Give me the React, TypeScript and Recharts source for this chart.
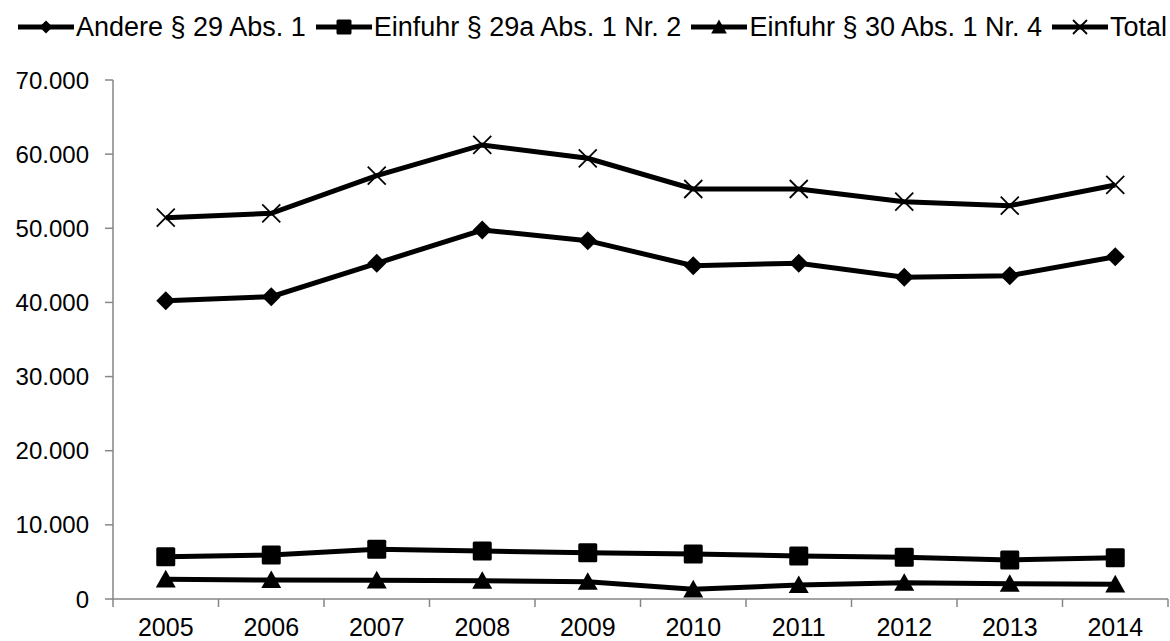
import React from 'react';
import { LineChart, Line, XAxis, YAxis } from 'recharts';

const years = ['2005', '2006', '2007', '2008', '2009', '2010', '2011', '2012', '2013', '2014'];
const andere = [40240, 40780, 45280, 49770, 48330, 44960, 45280, 43390, 43610, 46170];
const einfuhr29a = [5710, 5930, 6700, 6470, 6250, 6070, 5800, 5620, 5260, 5570];
const einfuhr30 = [2650, 2560, 2520, 2470, 2340, 1300, 1890, 2200, 2070, 1980];
const total = [51430, 52020, 57100, 61240, 59440, 55300, 55300, 53590, 53050, 55840];
const yTicks = [0, 10000, 20000, 30000, 40000, 50000, 60000, 70000];

const seriesNames = {
  andere: 'Andere § 29 Abs. 1',
  einfuhr29a: 'Einfuhr § 29a Abs. 1 Nr. 2',
  einfuhr30: 'Einfuhr § 30 Abs. 1 Nr. 4',
  total: 'Total',
};

const data = years.map((year, i) => ({
  year,
  andere: andere[i],
  einfuhr29a: einfuhr29a[i],
  einfuhr30: einfuhr30[i],
  total: total[i],
}));

const W = 1170;
const H = 641;
const PLOT_LEFT = 113;
const PLOT_RIGHT = 2;
const BAND = (W - PLOT_LEFT - PLOT_RIGHT) / years.length;
const FONT = 'Arial, "Liberation Sans", sans-serif';
const AXIS_COLOR = '#868686';

const fmt = (v: number) => String(v).replace(/\B(?=(\d{3})+(?!\d))/g, '.');

type Kind = 'diamond' | 'square' | 'triangle' | 'cross';

function Marker({ kind, cx, cy, s }: { kind: Kind; cx: number; cy: number; s: number }) {
  const h = s / 2;
  if (kind === 'diamond') {
    return <polygon points={`${cx},${cy - h} ${cx + h},${cy} ${cx},${cy + h} ${cx - h},${cy}`} fill="#000" />;
  }
  if (kind === 'square') {
    return <rect x={cx - h} y={cy - h} width={s} height={s} rx={1.5} fill="#000" />;
  }
  if (kind === 'triangle') {
    return <polygon points={`${cx},${cy - h} ${cx + h * 1.05},${cy + h * 0.85} ${cx - h * 1.05},${cy + h * 0.85}`} fill="#000" />;
  }
  return (
    <g stroke="#000" strokeWidth={1.8}>
      <line x1={cx - h} y1={cy - h} x2={cx + h} y2={cy + h} />
      <line x1={cx - h} y1={cy + h} x2={cx + h} y2={cy - h} />
    </g>
  );
}

const dotOf = (kind: Kind, s: number) => (props: any) => {
  const { cx, cy, index } = props;
  if (cx == null || cy == null) return <g key={`${kind}-${index}`} />;
  return <Marker key={`${kind}-${index}`} kind={kind} cx={cx} cy={cy} s={s} />;
};

const legendItems: { key: keyof typeof seriesNames; kind: Kind; s: number }[] = [
  { key: 'andere', kind: 'diamond', s: 13 },
  { key: 'einfuhr29a', kind: 'square', s: 15 },
  { key: 'einfuhr30', kind: 'triangle', s: 15 },
  { key: 'total', kind: 'cross', s: 14 },
];

// legend drawn outside the chart so it doesn't shrink the plot area
function ChartLegend() {
  return (
    <div
      style={{
        position: 'absolute',
        left: 18,
        top: 11,
        display: 'flex',
        alignItems: 'center',
        fontFamily: FONT,
        fontSize: 27,
        lineHeight: '32px',
        color: '#000',
        whiteSpace: 'nowrap',
      }}
    >
      {legendItems.map((it, i) => (
        <div key={it.key} style={{ display: 'flex', alignItems: 'center', marginRight: i < 3 ? 10 : 0 }}>
          <svg width={56} height={20}>
            <line x1={0} y1={10} x2={56} y2={10} stroke="#000" strokeWidth={5} />
            <Marker kind={it.kind} cx={28} cy={10} s={it.s} />
          </svg>
          <span style={{ marginLeft: 2 }}>{seriesNames[it.key]}</span>
        </div>
      ))}
    </div>
  );
}

function XTick(props: any) {
  const { x, y, payload, index } = props;
  const top = y - 10;
  return (
    <g>
      <line x1={x - BAND / 2} y1={top} x2={x - BAND / 2} y2={top + 8} stroke={AXIS_COLOR} strokeWidth={1.5} />
      {index === years.length - 1 && (
        <line x1={x + BAND / 2} y1={top} x2={x + BAND / 2} y2={top + 8} stroke={AXIS_COLOR} strokeWidth={1.5} />
      )}
      <text x={x} y={top + 37} textAnchor="middle" fontFamily={FONT} fontSize={25} fill="#000">
        {payload.value}
      </text>
    </g>
  );
}

export default function App() {
  return (
    <div style={{ position: 'absolute', left: 0, top: 0, width: W, height: H, background: '#fff' }}>
      <ChartLegend />
      <LineChart width={W} height={H} data={data} margin={{ top: 80, right: PLOT_RIGHT, bottom: 0, left: 0 }}>
        <XAxis
          dataKey="year"
          padding={{ left: BAND / 2, right: BAND / 2 }}
          axisLine={{ stroke: AXIS_COLOR, strokeWidth: 1.5 }}
          tickLine={false}
          tickSize={8}
          tickMargin={2}
          height={42}
          interval={0}
          tick={<XTick />}
        />
        <YAxis
          width={PLOT_LEFT}
          domain={[0, 70000]}
          ticks={yTicks}
          tickFormatter={fmt}
          axisLine={{ stroke: AXIS_COLOR, strokeWidth: 1.5 }}
          tickLine={{ stroke: AXIS_COLOR, strokeWidth: 1.5 }}
          tickSize={8}
          tickMargin={16}
          tick={{ fill: '#000', fontSize: 24, fontFamily: FONT }}
        />
        <Line dataKey="andere" name={seriesNames.andere} stroke="#000" strokeWidth={5} dot={dotOf('diamond', 19)} isAnimationActive={false} />
        <Line dataKey="einfuhr29a" name={seriesNames.einfuhr29a} stroke="#000" strokeWidth={5} dot={dotOf('square', 19)} isAnimationActive={false} />
        <Line dataKey="einfuhr30" name={seriesNames.einfuhr30} stroke="#000" strokeWidth={5} dot={dotOf('triangle', 19)} isAnimationActive={false} />
        <Line dataKey="total" name={seriesNames.total} stroke="#000" strokeWidth={5} dot={dotOf('cross', 18)} isAnimationActive={false} />
      </LineChart>
    </div>
  );
}
